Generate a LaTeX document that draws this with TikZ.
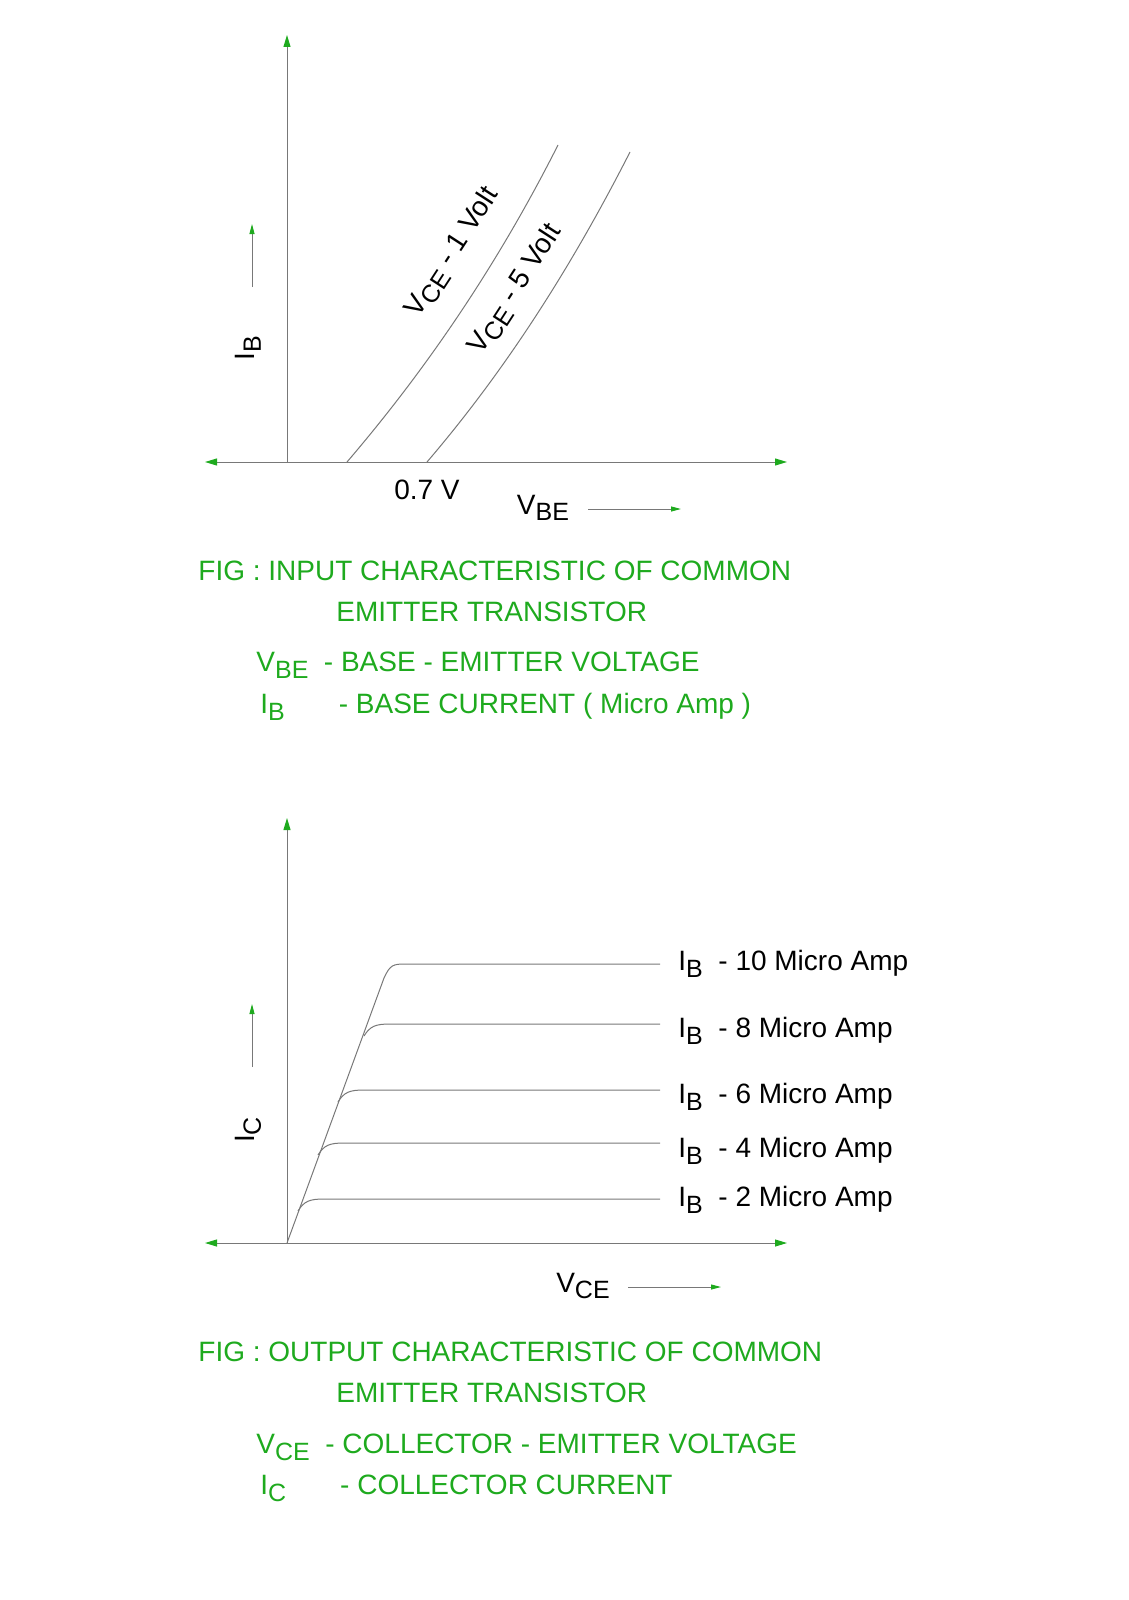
\documentclass[tikz,border=0pt]{standalone}
\usepackage{fontspec}
\setmainfont{Liberation Sans}
\usetikzlibrary{arrows.meta}
\definecolor{gr}{RGB}{30,170,30}
\definecolor{ln}{RGB}{120,120,120}
\newcommand{\mysb}[1]{\raisebox{-0.45ex}{\fontsize{12.5}{14}\selectfont #1}}
\begin{document}
\begin{tikzpicture}[x=0.5pt,y=-0.5pt,
  axis/.style={draw=ln,line width=0.5pt,-{Triangle[length=6pt,width=3.5pt,color=gr]}},
  axis2/.style={draw=ln,line width=0.5pt,{Triangle[length=6pt,width=3.5pt,color=gr]}-{Triangle[length=6pt,width=3.5pt,color=gr]}},
  crv/.style={draw=ln,line width=0.5pt},
  txt/.style={text=gr,font=\fontsize{14}{16}\selectfont,inner sep=0pt},
  lbl/.style={text=black,font=\fontsize{14}{16}\selectfont,inner sep=0pt},
  sm/.style={draw=ln,line width=0.5pt,-{Triangle[length=5pt,width=2.5pt,color=gr]}}]
\useasboundingbox (0,0) rectangle (1129,1600);
% ---- top
\coordinate (o1) at (287,462);
\coordinate (yt) at (287,35);
\coordinate (xl) at (205,462);
\coordinate (xr) at (787,462);
\draw[axis] (o1) -- (yt);
\draw[axis2] (xl) -- (xr);
\draw[crv] (347,462) .. controls (430,365) and (500,260) .. (558,145);
\draw[crv] (427,462) .. controls (510,365) and (575,260) .. (630,152);
\node[lbl,rotate=57] at (453,253) {V\mysb{CE} - 1 Volt};
\node[lbl,rotate=57] at (516,290) {V\mysb{CE} - 5 Volt};
\coordinate (ib1) at (252,287); \coordinate (ib2) at (252,224);
\draw[sm] (ib1) -- (ib2);
\node[lbl,rotate=90] at (248,348) {I\mysb{B}};
\node[lbl] at (427,490) {0.7 V};
\node[lbl] at (543,508) {V\mysb{BE}};
\coordinate (vb1) at (588,509); \coordinate (vb2) at (681,509);
\draw[sm] (vb1) -- (vb2);
\node[txt,anchor=west] at (198,571) {FIG : INPUT CHARACTERISTIC OF COMMON};
\node[txt,anchor=west] at (336,612) {EMITTER TRANSISTOR};
\node[txt,anchor=west] at (256,665) {V\mysb{BE}\ \ - BASE - EMITTER VOLTAGE};
\node[txt,anchor=west] at (260,707) {I\mysb{B}\hspace{27pt}- BASE CURRENT ( Micro Amp )};
% ---- bottom
\coordinate (o2) at (287,1243);
\coordinate (yt2) at (287,818);
\coordinate (xl2) at (205,1243);
\coordinate (xr2) at (787,1243);
\draw[axis] (o2) -- (yt2);
\draw[axis2] (xl2) -- (xr2);
\draw[crv] (o2) -- (384,978) .. controls (390,965) and (393,964) .. (405,964) -- (660,964);
\foreach \y/\k in {1024/364,1090/338,1143/318,1199/298}{
  \draw[crv] (\k,\y+12) .. controls (\k+6,\y+2) and (\k+12,\y) .. (\k+26,\y) -- (660,\y);
}
\foreach \y/\t in {964/10,1031/8,1097/6,1151/4,1200/2}{
  \node[lbl,anchor=west] at (678,\y) {I\mysb{B}\ \ - \t\ Micro Amp};
}
\coordinate (ic1) at (252,1067); \coordinate (ic2) at (252,1004);
\draw[sm] (ic1) -- (ic2);
\node[lbl,rotate=90] at (248,1130) {I\mysb{C}};
\node[lbl] at (583,1286) {V\mysb{CE}};
\coordinate (vc1) at (628,1287); \coordinate (vc2) at (721,1287);
\draw[sm] (vc1) -- (vc2);
\node[txt,anchor=west] at (198,1352) {FIG : OUTPUT CHARACTERISTIC OF COMMON};
\node[txt,anchor=west] at (336,1393) {EMITTER TRANSISTOR};
\node[txt,anchor=west] at (256,1447) {V\mysb{CE}\ \ - COLLECTOR - EMITTER VOLTAGE};
\node[txt,anchor=west] at (260,1488) {I\mysb{C}\hspace{27pt}- COLLECTOR CURRENT};
\end{tikzpicture}
\end{document}
